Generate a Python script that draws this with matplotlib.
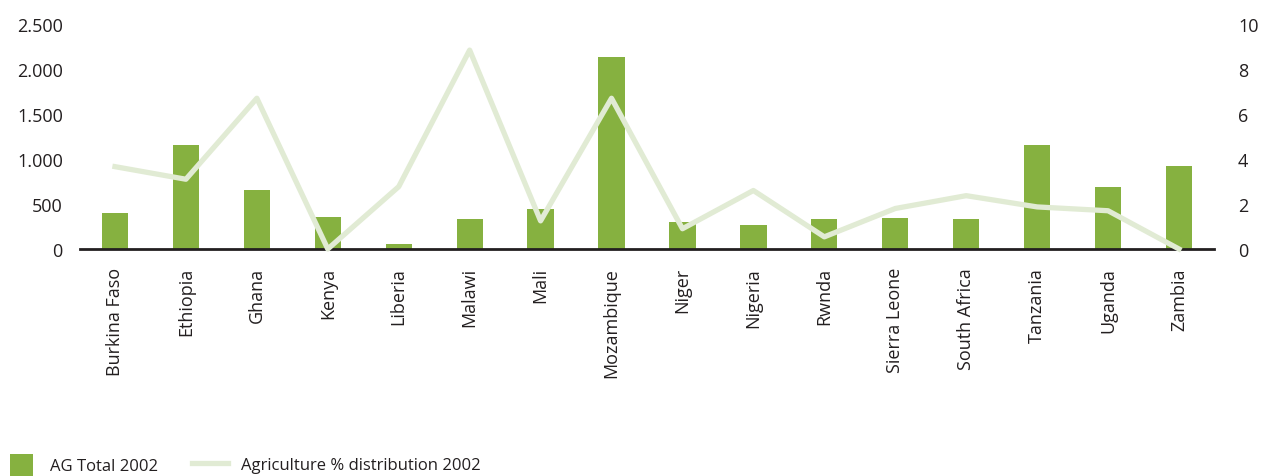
import matplotlib
matplotlib.use("Agg")
import matplotlib.pyplot as plt
import numpy as np

countries = ["Burkina Faso", "Ethiopia", "Ghana", "Kenya", "Liberia", "Malawi", "Mali",
             "Mozambique", "Niger", "Nigeria", "Rwnda", "Sierra Leone", "South Africa",
             "Tanzania", "Uganda", "Zambia"]
ag_total = [400, 1150, 660, 350, 50, 330, 440, 2130, 300, 270, 330, 340, 330, 1150, 690, 920]
ag_pct = [3.66, 3.1, 6.7, 0.0, 2.77, 8.84, 1.25, 6.7, 0.9, 2.6, 0.54, 1.8, 2.37, 1.87, 1.7, 0.0]
left_ticks = [0, 500, 1000, 1500, 2000, 2500]
right_ticks = [0, 2, 4, 6, 8, 10]

BAR = "#86b140"
LINE = "#e1ebd4"
TEXT = "#231f20"

plt.rcParams["font.family"] = ["Open Sans", "DejaVu Sans"]

fig = plt.figure(figsize=(12.64, 4.77), dpi=100)

ax = fig.add_axes([0.0629, 0.4759, 0.8979, 0.4717])
x = np.arange(len(countries))
bars = ax.bar(x, ag_total, width=0.37, color=BAR, zorder=2)
ax.set_ylim(0, 2500)
ax.set_xlim(-0.5, len(countries) - 0.5)
ax.set_yticks(left_ticks)
ax.set_yticklabels([f"{v:,}".replace(",", ".") for v in left_ticks])
ax.set_xticks(x)
ax.set_xticklabels(countries, rotation=90)

ax2 = ax.twinx()
line, = ax2.plot(x, ag_pct, color=LINE, linewidth=3.8, zorder=3, clip_on=False)
ax2.set_ylim(0, 10)
ax2.set_yticks(right_ticks)

for a in (ax, ax2):
    for s in ("top", "right", "left", "bottom"):
        a.spines[s].set_visible(False)
    a.tick_params(length=0, labelsize=13, colors=TEXT)
ax.spines["bottom"].set_visible(True)
ax.spines["bottom"].set_linewidth(2)
ax.spines["bottom"].set_color(TEXT)
ax.tick_params(axis="y", pad=12)
ax.tick_params(axis="x", pad=13)
ax2.tick_params(axis="y", pad=17)

# two separate legend entries so each handle keeps its own size
ly = 1 - 466 / 477
fig.legend([bars], ["AG Total 2002"], loc="center left",
           bbox_to_anchor=(10 / 1264, ly), frameon=False, fontsize=12,
           handlelength=1.38, handleheight=1.6, handletextpad=1.02,
           borderpad=0, borderaxespad=0, labelcolor=TEXT)
fig.legend([line], ["Agriculture % distribution 2002"], loc="center left",
           bbox_to_anchor=(192 / 1264, ly), frameon=False, fontsize=12,
           handlelength=2.16, handletextpad=0.78,
           borderpad=0, borderaxespad=0, labelcolor=TEXT)

fig.savefig("out.png", dpi=100)
